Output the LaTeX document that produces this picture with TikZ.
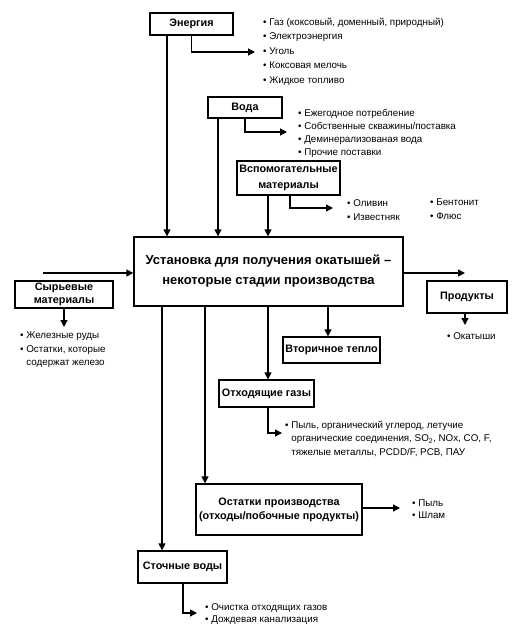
\documentclass[tikz,border=0pt]{standalone}
\usepackage{fontspec}
\setmainfont{Liberation Sans}
\usetikzlibrary{arrows.meta}
\begin{document}
\begin{tikzpicture}[x=1pt,y=-1pt,
  box/.style={draw, line width=1.3pt, fill=white, align=center, inner sep=0pt,
    font=\bfseries\fontsize{10.8}{14}\selectfont},
  mainbox/.style={box, font=\bfseries\fontsize{13}{20}\selectfont},
  bul/.style={anchor=north west, align=left, inner sep=0pt,
    font=\fontsize{9.8}{14}\selectfont},
  arr/.style={line width=1.3pt, -{Triangle[length=7pt,width=7pt]}},
  ln/.style={line width=1.3pt}]
\useasboundingbox (0,0) rectangle (530,640);

% boxes
\node[box, minimum width=83pt, minimum height=22pt] (energy) at (191.5,24) {Энергия};
\node[box, minimum width=74pt, minimum height=21pt] (water) at (245,107.5) {Вода};
\node[box, minimum width=103pt, minimum height=34pt, font=\bfseries\fontsize{10.8}{16}\selectfont] (aux) at (288.5,178) {Вспомогательные\\материалы};
\node[mainbox, minimum width=269pt, minimum height=69pt] (main) at (268.5,271.5) {Установка для получения окатышей –\\некоторые стадии производства};
\node[box, minimum width=98pt, minimum height=27pt, font=\bfseries\fontsize{10.8}{12.5}\selectfont] (raw) at (64,294.5) {Сырьевые\\материалы};
\node[box, minimum width=80pt, minimum height=32pt] (prod) at (467,297) {Продукты};
\node[box, minimum width=97pt, minimum height=26pt] (heat) at (331.5,350) {Вторичное тепло};
\node[box, minimum width=95pt, minimum height=27pt] (gas) at (266.5,393.5) {Отходящие газы};
\node[box, minimum width=166pt, minimum height=51pt] (res) at (279,509.5) {Остатки производства\\(отходы/побочные продукты)};
\node[box, minimum width=89pt, minimum height=32pt] (ww) at (182.5,567) {Сточные воды};

% bullet lists
\node[bul, font=\fontsize{9.8}{14.5}\selectfont] (ebul) at (263,18) {• Газ (коксовый, доменный, природный)\\• Электроэнергия\\• Уголь\\• Коксовая мелочь\\• Жидкое топливо};
\node[bul, font=\fontsize{9.8}{13}\selectfont] (wbul) at (298,109) {• Ежегодное потребление\\• Собственные скважины/поставка\\• Деминерализованая вода\\• Прочие поставки};
\node[bul] (abul1) at (347,199) {• Оливин\\• Известняк};
\node[bul] (abul2) at (430,199) {• Бентонит\\• Флюс};
\node[bul, font=\fontsize{9.8}{13.5}\selectfont] (rbul) at (20,332) {• Железные руды\\• Остатки, которые\\\phantom{• }содержат железо};
\node[bul] (pbul) at (447,332) {• Окатыши};
\node[bul, font=\fontsize{9.8}{13.5}\selectfont] (gbul) at (285,421) {• Пыль, органический углерод, летучие\\\phantom{• }органические соединения, SO\textsubscript{2}, NOx, CO, F,\\\phantom{• }тяжелые металлы, PCDD/F, PCB, ПАУ};
\node[bul, font=\fontsize{9.8}{12}\selectfont] (resbul) at (412,500) {• Пыль\\• Шлам};
\node[bul, font=\fontsize{9.8}{12}\selectfont] (wwbul) at (205,603) {• Очистка отходящих газов\\• Дождевая канализация};

% arrow end points
\coordinate (eend) at (255,52);
\coordinate (wend) at (287,132);
\coordinate (aend) at (333,208);
\coordinate (inl) at (43,273);
\coordinate (outr) at (465,273);
\coordinate (rend) at (64,327);
\coordinate (pend) at (465,325);
\coordinate (gend) at (282,433);
\coordinate (resend) at (400,508);
\coordinate (wwend) at (197,613);

% inputs
\draw[arr] (energy.south -| 167,0) -- (main.north -| 167,0);
\draw[arr] (energy.south) |- (eend);
\draw[arr] (water.south -| 218,0) -- (main.north -| 218,0);
\draw[arr] (water.south) |- (wend);
\draw[arr] (aux.south -| 268,0) -- (main.north -| 268,0);
\draw[arr] (aux.south -| 290,0) |- (aend);
\draw[arr] (inl) -- (main.west |- inl);
\draw[arr] (main.east |- outr) -- (outr);
\draw[arr] (raw.south) -- (rend);
\draw[arr] (prod.south -| pend) -- (pend);

% outputs
\draw[arr] (main.south -| 328,0) -- (heat.north -| 328,0);
\draw[arr] (main.south -| 268,0) -- (gas.north -| 268,0);
\draw[arr] (gas.south -| 268,0) |- (gend);
\draw[arr] (main.south -| 205,0) -- (res.north -| 205,0);
\draw[arr] (res.east |- resend) -- (resend);
\draw[arr] (main.south -| 162,0) -- (ww.north -| 162,0);
\draw[arr] (ww.south -| 183,0) |- (wwend);
\end{tikzpicture}
\end{document}
